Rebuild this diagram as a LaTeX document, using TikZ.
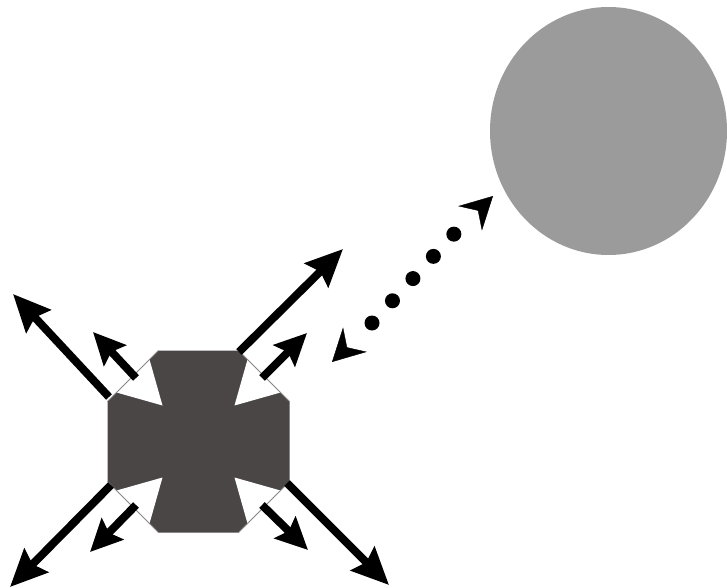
\documentclass[tikz,border=0pt]{standalone}
\usetikzlibrary{arrows.meta,calc,shapes.geometric}
\definecolor{octfill}{HTML}{4A4646}
\definecolor{ballfill}{HTML}{9B9B9B}
\definecolor{octedge}{HTML}{8A8686}
\begin{document}
\begin{tikzpicture}[x=1pt,y=-1pt,
  bigarrow/.style={line width=8pt,-{Stealth[length=37pt,width=33pt,inset=5pt]}},
  smallarrow/.style={line width=8pt,-{Stealth[length=32pt,width=30pt,inset=5pt]}},
  dotline/.style={line width=15pt,line cap=round,dash pattern=on 0pt off 30.2pt},
  dothead/.style={line width=0.4pt,-{Stealth[length=32pt,width=34pt,inset=11pt]}},
  inhead/.style={fill=white,draw=none}]
\useasboundingbox (0,0) rectangle (727,588);

% ball
\node[ellipse, fill=ballfill, minimum width=237pt, minimum height=248pt, inner sep=0pt] (ball) at (608.5,131) {};

% octagon
\coordinate (oct) at (198.5,441.5);
\fill[octfill] ($(oct)+(-40,-91)$) -- ($(oct)+(40,-91)$) -- ($(oct)+(91,-40)$) -- ($(oct)+(91,40)$)
  -- ($(oct)+(40,91)$) -- ($(oct)+(-40,91)$) -- ($(oct)+(-91,40)$) -- ($(oct)+(-91,-40)$) -- cycle;
% white inward heads
\fill[inhead] ($(oct)+(-82,-49)$) -- ($(oct)+(-49,-82)$) -- ($(oct)+(-36,-36)$) -- cycle;
\fill[inhead] ($(oct)+(82,-49)$) -- ($(oct)+(49,-82)$) -- ($(oct)+(36,-36)$) -- cycle;
\fill[inhead] ($(oct)+(-82,49)$) -- ($(oct)+(-49,82)$) -- ($(oct)+(-36,36)$) -- cycle;
\fill[inhead] ($(oct)+(82,49)$) -- ($(oct)+(49,82)$) -- ($(oct)+(36,36)$) -- cycle;
\draw[octedge, line width=0.8pt] ($(oct)+(-40,-91)$) -- ($(oct)+(-91,-40)$);
\draw[octedge, line width=0.8pt] ($(oct)+(40,-91)$) -- ($(oct)+(91,-40)$);
\draw[octedge, line width=0.8pt] ($(oct)+(-40,91)$) -- ($(oct)+(-91,40)$);
\draw[octedge, line width=0.8pt] ($(oct)+(40,91)$) -- ($(oct)+(91,40)$);

% long arrows
\coordinate (ltlS) at (109,397);   \coordinate (ltlT) at (13,294);
\coordinate (ltrS) at (239,352);   \coordinate (ltrT) at (343,249);
\coordinate (lblS) at (111,485);   \coordinate (lblT) at (10,587);
\coordinate (lbrS) at (287,483);   \coordinate (lbrT) at (389,585);
\draw[bigarrow] (ltlS) -- (ltlT);
\draw[bigarrow] (ltrS) -- (ltrT);
\draw[bigarrow] (lblS) -- (lblT);
\draw[bigarrow] (lbrS) -- (lbrT);

% short arrows
\coordinate (stlS) at (136,378);   \coordinate (stlT) at (93,332);
\coordinate (strS) at (262,378);   \coordinate (strT) at (307,333);
\coordinate (sblS) at (136,505);   \coordinate (sblT) at (90,552);
\coordinate (sbrS) at (262,505);   \coordinate (sbrT) at (308,550);
\draw[smallarrow] (stlS) -- (stlT);
\draw[smallarrow] (strS) -- (strT);
\draw[smallarrow] (sblS) -- (sblT);
\draw[smallarrow] (sbrS) -- (sbrT);

% dotted double arrow
\coordinate (d1) at (372,323);
\coordinate (d5) at (454,234);
\coordinate (dt1) at (332,362);
\coordinate (dt2) at (493,196);
\draw[dotline] (d1) -- (d5);
\draw[dothead] ($(dt1)!21pt!(d1)$) -- (dt1);
\draw[dothead] ($(dt2)!21pt!(d5)$) -- (dt2);
\end{tikzpicture}
\end{document}
